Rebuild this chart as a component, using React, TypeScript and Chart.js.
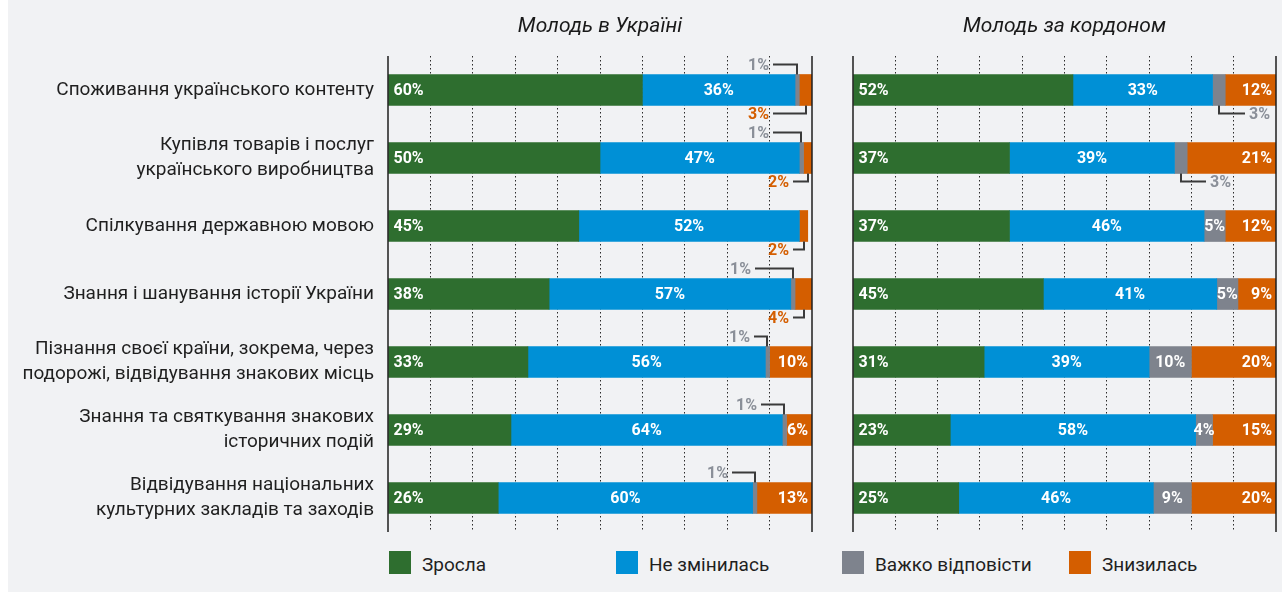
import React, { useEffect, useRef } from "react";
import { Chart, registerables } from "chart.js";

Chart.register(...registerables);

const FONT = "Roboto, 'Noto Sans', sans-serif";

// Row captions (multi-line captions are arrays of lines)
const categories: (string | string[])[] = [
  "Споживання українського контенту",
  ["Купівля товарів і послуг", "українського виробництва"],
  "Спілкування державною мовою",
  "Знання і шанування історії України",
  ["Пізнання своєї країни, зокрема, через", "подорожі, відвідування знакових місць"],
  ["Знання та святкування знакових", "історичних подій"],
  ["Відвідування національних", "культурних закладів та заходів"],
];

const seriesLabels = ["Зросла", "Не змінилась", "Важко відповісти", "Знизилась"];
const seriesColors = ["#2e6e2f", "#0090d6", "#7e838d", "#d45e00"];
const calloutTextColors = ["#2e6e2f", "#0090d6", "#8a8f98", "#d45e00"];

const panelTitles = ["Молодь в Україні", "Молодь за кордоном"];

// Youth in Ukraine, %
const ukraineGrew = [60, 50, 45, 38, 33, 29, 26];
const ukraineSame = [36, 47, 52, 57, 56, 64, 60];
const ukraineHard = [1, 1, 0, 1, 1, 1, 1];
const ukraineFell = [3, 2, 2, 4, 10, 6, 13];

// Youth abroad, %
const abroadGrew = [52, 37, 37, 45, 31, 23, 25];
const abroadSame = [33, 39, 46, 41, 39, 58, 46];
const abroadHard = [3, 3, 5, 5, 10, 4, 9];
const abroadFell = [12, 21, 12, 9, 20, 15, 20];

const axisMin = 0;
const axisMax = 100;
const axisStep = 10;

type Callout = {
  row: number;
  series: number;
  side: "above" | "below";
  toward: "left" | "right";
  reach: number;
};

// Small segments whose value is written outside the bar with a leader line
const ukraineCallouts: Callout[] = [
  { row: 0, series: 2, side: "above", toward: "left", reach: 28 },
  { row: 0, series: 3, side: "below", toward: "left", reach: 37 },
  { row: 1, series: 2, side: "above", toward: "left", reach: 32 },
  { row: 1, series: 3, side: "below", toward: "left", reach: 19 },
  { row: 2, series: 3, side: "below", toward: "left", reach: 15 },
  { row: 3, series: 2, side: "above", toward: "left", reach: 42 },
  { row: 3, series: 3, side: "below", toward: "left", reach: 15 },
  { row: 4, series: 2, side: "above", toward: "left", reach: 17 },
  { row: 5, series: 2, side: "above", toward: "left", reach: 27 },
  { row: 6, series: 2, side: "above", toward: "left", reach: 27 },
];

const abroadCallouts: Callout[] = [
  { row: 0, series: 2, side: "below", toward: "right", reach: 30 },
  { row: 1, series: 2, side: "below", toward: "right", reach: 29 },
];

type PanelProps = {
  title: string;
  values: number[][];
  callouts: Callout[];
  showCategories: boolean;
  left: number;
  width: number;
  height: number;
  padding: { left: number; right: number; top: number; bottom: number };
  axisWidth: number;
};

function makeLabelPlugin(title: string, callouts: Callout[]) {
  return {
    id: "panelDecor",
    afterDatasetsDraw(chart: any) {
      const ctx: CanvasRenderingContext2D = chart.ctx;
      const xs = chart.scales.x;
      const area = chart.chartArea;
      ctx.save();

      // solid frame lines at 0% and 100%
      ctx.strokeStyle = "#1e1e1e";
      ctx.lineWidth = 1.5;
      for (const v of [axisMin, axisMax]) {
        const px = Math.round(xs.getPixelForValue(v));
        ctx.beginPath();
        ctx.moveTo(px, area.top);
        ctx.lineTo(px, area.bottom);
        ctx.stroke();
      }

      ctx.font = `bold 16px ${FONT}`;
      ctx.textBaseline = "middle";

      chart.data.datasets.forEach((ds: any, di: number) => {
        const meta = chart.getDatasetMeta(di);
        meta.data.forEach((el: any, ri: number) => {
          const v = ds.data[ri];
          if (!v) return;
          const { x, y, base, height } = el.getProps(["x", "y", "base", "height"], true);
          const text = `${v}%`;
          const co = callouts.find((c) => c.row === ri && c.series === di);
          if (co) {
            const cx = Math.round((x + base) / 2);
            const edge = co.side === "above" ? y - height / 2 : y + height / 2;
            const lineY = co.side === "above" ? edge - 10 : edge + 8;
            const labelX = co.toward === "left" ? cx - co.reach : cx + co.reach;
            const lineEnd = co.toward === "left" ? labelX + 4 : labelX - 4;
            ctx.strokeStyle = "#3a3a3a";
            ctx.lineWidth = 2;
            ctx.beginPath();
            ctx.moveTo(cx, edge);
            ctx.lineTo(cx, lineY);
            ctx.lineTo(lineEnd, lineY);
            ctx.stroke();
            ctx.fillStyle = calloutTextColors[di];
            ctx.textAlign = co.toward === "left" ? "right" : "left";
            ctx.fillText(text, labelX, lineY + 1);
            return;
          }
          ctx.fillStyle = "#ffffff";
          if (di === 0) {
            ctx.textAlign = "left";
            ctx.fillText(text, base + 5, y + 1);
          } else if (di === 3) {
            ctx.textAlign = "right";
            ctx.fillText(text, x - 4, y + 1);
          } else {
            ctx.textAlign = "center";
            ctx.fillText(text, (x + base) / 2, y + 1);
          }
        });
      });

      // panel title
      ctx.fillStyle = "#1a1a1a";
      ctx.font = `italic 21px ${FONT}`;
      ctx.textAlign = "center";
      ctx.textBaseline = "middle";
      ctx.fillText(title, (area.left + area.right) / 2, 27);
      ctx.restore();
    },
  };
}

function Panel(props: PanelProps) {
  const ref = useRef<HTMLCanvasElement | null>(null);

  useEffect(() => {
    if (!ref.current) return;
    const chart = new Chart(ref.current, {
      type: "bar",
      data: {
        labels: categories as any,
        datasets: props.values.map((vals, i) => ({
          label: seriesLabels[i],
          data: vals,
          backgroundColor: seriesColors[i],
          borderWidth: 0,
          barThickness: 31,
        })),
      },
      options: {
        indexAxis: "y",
        responsive: false,
        animation: false,
        events: [],
        layout: { padding: props.padding, autoPadding: false },
        plugins: {
          legend: { display: false },
          tooltip: { enabled: false },
          title: { display: false },
        },
        scales: {
          x: {
            stacked: true,
            min: axisMin,
            max: axisMax,
            ticks: { display: false, stepSize: axisStep },
            grid: {
              drawTicks: false,
              lineWidth: 1,
              color: (c: any) =>
                c.tick && (c.tick.value === axisMin || c.tick.value === axisMax)
                  ? "rgba(0,0,0,0)"
                  : "#2a2a2a",
            },
            border: { display: false, dash: [1.5, 2.5] },
          },
          y: {
            stacked: true,
            display: props.showCategories,
            afterFit: (s: any) => {
              // fixed label column; no extra room for tall captions
              s.width = props.axisWidth;
              s.paddingTop = 0;
              s.paddingBottom = 0;
            },
            grid: { display: false, drawTicks: false },
            border: { display: false },
            ticks: {
              padding: 14,
              color: "#1f1f1f",
              font: { family: FONT, size: 19, lineHeight: 1.3 },
            },
          },
        },
      },
      plugins: [makeLabelPlugin(props.title, props.callouts)],
    } as any);
    return () => chart.destroy();
  }, []);

  return (
    <canvas
      ref={ref}
      width={props.width}
      height={props.height}
      style={{
        position: "absolute",
        left: props.left,
        top: 0,
        width: props.width,
        height: props.height,
      }}
    />
  );
}

const legendX = [389, 616, 842, 1069];

export default function App() {
  useEffect(() => {
    document.body.style.overflow = "hidden";
  }, []);

  return (
    <div
      style={{
        position: "absolute",
        left: 0,
        top: 0,
        width: 1282,
        height: 592,
        overflow: "hidden",
        background: "#ffffff",
      }}
    >
      <div
        style={{
          position: "absolute",
          left: 8,
          top: 0,
          right: 0,
          bottom: 0,
          background: "#f1f2f4",
        }}
      />
      <Panel
        title={panelTitles[0]}
        values={[ukraineGrew, ukraineSame, ukraineHard, ukraineFell]}
        callouts={ukraineCallouts}
        showCategories={true}
        left={0}
        width={830}
        height={545}
        padding={{ left: 0, right: 18, top: 56, bottom: 13 }}
        axisWidth={388}
      />
      <Panel
        title={panelTitles[1]}
        values={[abroadGrew, abroadSame, abroadHard, abroadFell]}
        callouts={abroadCallouts}
        showCategories={false}
        left={830}
        width={452}
        height={545}
        padding={{ left: 23, right: 6, top: 56, bottom: 13 }}
        axisWidth={0}
      />
      {seriesLabels.map((name, i) => (
        <div key={name}>
          <div
            style={{
              position: "absolute",
              left: legendX[i],
              top: 551,
              width: 22,
              height: 23,
              background: seriesColors[i],
            }}
          />
          <div
            style={{
              position: "absolute",
              left: legendX[i] + 33,
              top: 553,
              lineHeight: "24px",
              fontFamily: FONT,
              fontSize: 19,
              color: "#1f1f1f",
              whiteSpace: "nowrap",
            }}
          >
            {name}
          </div>
        </div>
      ))}
    </div>
  );
}
